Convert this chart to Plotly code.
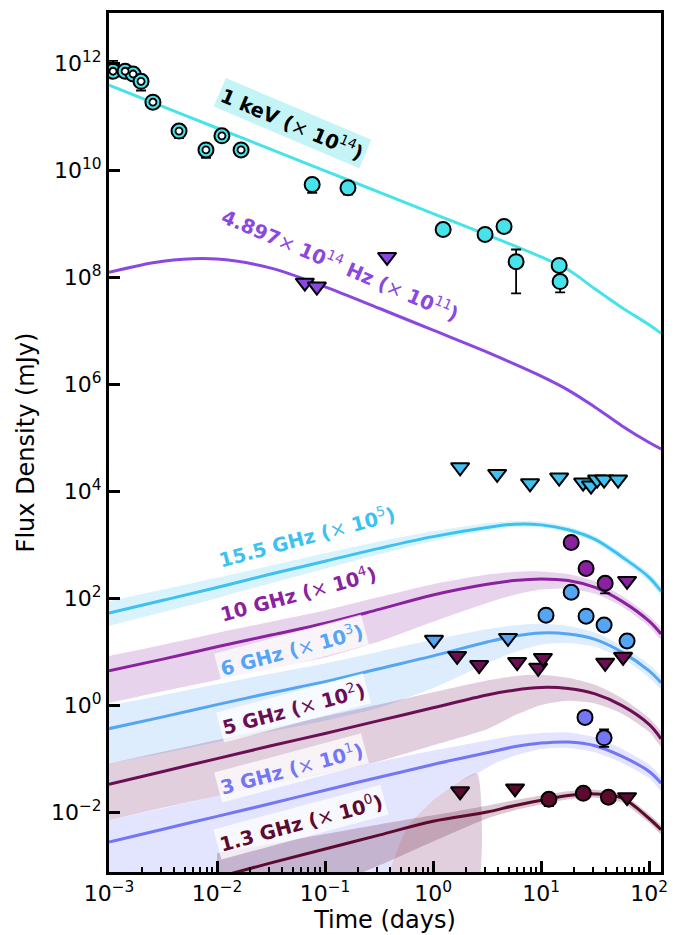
import numpy as np
import plotly.graph_objects as go

# ---------------- model curves (time in days, log10 flux density in mJy) ----------------
t_grid = [0.001, 0.00316, 0.01, 0.0316, 0.1, 0.316, 1.0, 3.16, 5.62, 10.0, 17.8, 31.6, 56.2, 100.0, 129.0]

xray_log = [11.59, 11.19, 10.79, 10.39, 9.99, 9.59, 9.19, 8.79, 8.59, 8.38, 8.14, 7.78, 7.43, 7.11, 6.95]
opt_log = [8.09, 8.30, 8.34, 8.17, 7.82, 7.42, 7.01, 6.60, 6.38, 6.15, 5.89, 5.57, 5.22, 4.91, 4.79]

r155_log = [1.72, 1.96, 2.20, 2.45, 2.69, 2.93, 3.15, 3.32, 3.38, 3.37, 3.28, 3.10, 2.77, 2.39, 2.13]
r155_up = [1.94, 2.16, 2.38, 2.61, 2.84, 3.06, 3.25, 3.40, 3.44, 3.43, 3.34, 3.16, 2.84, 2.47, 2.21]
r155_lo = [1.48, 1.74, 2.00, 2.28, 2.55, 2.82, 3.07, 3.26, 3.33, 3.32, 3.23, 3.04, 2.70, 2.31, 2.05]

r10_log = [0.64, 0.86, 1.09, 1.31, 1.53, 1.79, 2.06, 2.26, 2.33, 2.36, 2.33, 2.20, 1.94, 1.57, 1.33]
r10_up = [0.92, 1.13, 1.35, 1.56, 1.77, 2.02, 2.26, 2.44, 2.49, 2.50, 2.45, 2.31, 2.04, 1.67, 1.43]
r10_lo = [0.04, 0.26, 0.47, 0.68, 0.89, 1.19, 1.56, 1.91, 2.06, 2.16, 2.18, 2.08, 1.84, 1.47, 1.23]

r6_log = [-0.44, -0.22, 0.01, 0.23, 0.44, 0.68, 0.92, 1.18, 1.29, 1.35, 1.33, 1.23, 0.99, 0.64, 0.42]
r6_up = [-0.01, 0.19, 0.39, 0.59, 0.78, 1.00, 1.22, 1.42, 1.49, 1.52, 1.48, 1.36, 1.11, 0.76, 0.54]
r6_lo = [-1.09, -0.90, -0.69, -0.49, -0.29, -0.05, 0.32, 0.78, 0.99, 1.13, 1.16, 1.09, 0.87, 0.52, 0.30]

r5_log = [-1.48, -1.24, -1.00, -0.76, -0.53, -0.29, -0.05, 0.19, 0.28, 0.33, 0.31, 0.21, -0.01, -0.36, -0.63]
r5_up = [-1.09, -0.87, -0.65, -0.43, -0.21, 0.01, 0.24, 0.46, 0.54, 0.57, 0.51, 0.38, 0.13, -0.24, -0.51]
r5_lo = [-2.15, -1.92, -1.70, -1.48, -1.28, -1.05, -0.75, -0.45, -0.20, 0.00, 0.08, 0.03, -0.16, -0.50, -0.77]

r3_log = [-2.56, -2.32, -2.08, -1.84, -1.59, -1.35, -1.11, -0.89, -0.78, -0.71, -0.69, -0.76, -0.96, -1.24, -1.46]
r3_up = [-2.15, -1.93, -1.70, -1.48, -1.26, -1.06, -0.85, -0.66, -0.57, -0.52, -0.51, -0.60, -0.82, -1.11, -1.34]
t3_lo = [0.001, 0.0316, 0.1, 0.38, 0.40, 0.50, 0.61, 0.79, 1.0, 1.67, 2.55, 3.98, 6.31, 10.0, 17.8, 31.6, 56.2, 100.0, 129.0]
r3_lo = [-3.5, -3.5, -3.5, -3.5, -3.08, -2.55, -2.21, -1.98, -1.78, -1.46, -1.28, -1.06, -0.92, -0.82, -0.80, -0.88, -1.08, -1.36, -1.60]

t13 = [0.01, 0.0316, 0.1, 0.316, 1.0, 3.16, 5.62, 10.0, 17.8, 31.6, 56.2, 100.0, 129.0]
r13_log = [-3.22, -2.95, -2.69, -2.43, -2.17, -2.00, -1.88, -1.78, -1.69, -1.66, -1.74, -2.12, -2.33]
r13_up = [-2.77, -2.59, -2.41, -2.23, -2.06, -1.88, -1.78, -1.69, -1.61, -1.58, -1.66, -2.04, -2.25]
r13_lo = [-4.0, -3.7, -3.4, -3.0, -2.55, -2.12, -1.97, -1.86, -1.76, -1.73, -1.82, -2.20, -2.41]

t_wedge = [0.38, 0.40, 0.50, 0.61, 0.79, 1.0, 1.67, 2.55]
wedge_up = [-3.3, -3.08, -2.55, -2.21, -1.98, -1.78, -1.46, -1.28]
wedge_lo = [-3.5, -3.5, -3.5, -3.5, -3.5, -3.5, -3.5, -3.5]

# ---------------- observations (days, mJy) ----------------
xo_t = [1.09e-3, 1.41e-3, 1.67e-3, 1.98e-3, 2.55e-3, 4.45e-3, 7.9e-3, 1.11e-2, 1.67e-2]
xo_f = [7.1e11, 7.1e11, 6.3e11, 4.6e11, 1.87e11, 5.4e10, 2.4e10, 4.4e10, 2.4e10]
xo_ep = [4.0e11, 5e10, 5e10, 4e10, 1.5e10, 4e9, 2e9, 4e9, 2e9]
xo_em = [5e10, 5e10, 5e10, 1.5e11, 1.5e10, 1.4e10, 7e9, 4e9, 2e9]

xf_t = [0.076, 0.163, 1.24, 3.03, 4.54, 5.87, 14.7, 15.0]
xf_f = [5.4e9, 4.7e9, 7.8e8, 6.3e8, 8.9e8, 1.95e8, 1.66e8, 8.3e7]
xf_ep = [5e8, 5e8, 8e7, 6e7, 8e7, 1.35e8, 1.5e7, 1.0e7]
xf_em = [1.6e9, 1.2e9, 1.2e8, 6e7, 8e7, 1.45e8, 1.5e7, 3.1e7]

opt_ul_t = [0.065, 0.084, 0.375]
opt_ul_f = [7.9e7, 6.7e7, 2.4e8]

r155_ul_t = [1.78, 3.92, 7.9, 14.7, 24.5, 29.0, 33.0, 38.3, 51.6]
r155_ul_f = [2.8e4, 2.1e4, 1.4e4, 1.8e4, 1.45e4, 1.27e4, 1.65e4, 1.65e4, 1.65e4]

r10_t = [19.0, 26.1, 39.2]
r10_f = [1.1e3, 3.6e2, 1.9e2]
r10_em = [60, 25, 67]
r10_ul_t = [62.5]
r10_ul_f = [2.1e2]

r6_t = [11.1, 19.0, 26.1, 38.3, 62.5]
r6_f = [48, 129, 46, 31.5, 15.8]
r6_em = [3, 8, 3, 2, 3.5]
r6_ul_t = [1.02, 4.94]
r6_ul_f = [16.6, 18.0]

r5_ul_t = [1.67, 2.67, 6.0, 9.4, 10.4, 39.2, 57.4]
r5_ul_f = [8.3, 5.6, 6.4, 5.0, 7.6, 6.2, 8.0]

r3_t = [25.5, 38.3]
r3_f = [0.59, 0.245]
r3_ep = [0.03, 0.105]
r3_em = [0.03, 0.079]

r13_t = [11.8, 24.6, 42.0]
r13_f = [0.0174, 0.0224, 0.019]
r13_em = [0.0045, 0.002, 0.0042]
r13_ul_t = [1.78, 5.74, 62.5]
r13_ul_f = [0.0245, 0.0277, 0.019]

# ---------------- ticks ----------------
x_tickvals = [1e-3, 1e-2, 1e-1, 1, 10, 100]
x_ticktext = ["10<sup>−3</sup>", "10<sup>−2</sup>", "10<sup>−1</sup>", "10<sup>0</sup>", "10<sup>1</sup>", "10<sup>2</sup>"]
y_tickvals = [1e-2, 1, 1e2, 1e4, 1e6, 1e8, 1e10, 1e12]
y_ticktext = ["10<sup>−2</sup>", "10<sup>0</sup>", "10<sup>2</sup>", "10<sup>4</sup>", "10<sup>6</sup>",
              "10<sup>8</sup>", "10<sup>10</sup>", "10<sup>12</sup>"]

# ---------------- colours ----------------
C_X = "#46E3EA"
C_OPT = "#8A48E0"
C_155 = "#3DC1F0"
C_10 = "#8A22A0"
C_6 = "#55A5F5"
C_5 = "#6B0F55"
C_3 = "#7376F5"
C_13 = "#5C0A2E"


def rgba(hexcol, a):
    h = hexcol.lstrip("#")
    r, g, b = int(h[0:2], 16), int(h[2:4], 16), int(h[4:6], 16)
    return f"rgba({r},{g},{b},{a})"


def pw(lst):
    return list(10 ** np.array(lst, dtype=float))


fig = go.Figure()


def band(t_up, up, t_lo, lo, color, a=0.2):
    fig.add_trace(go.Scatter(
        x=list(t_up) + list(t_lo)[::-1],
        y=pw(up) + pw(lo)[::-1],
        fill="toself", fillcolor=rgba(color, a), mode="lines",
        line=dict(width=0, color="rgba(0,0,0,0)", shape="spline", smoothing=0.6),
        hoverinfo="skip", showlegend=False))


band(t_grid, r155_up, t_grid, r155_lo, C_155)
band(t_grid, r10_up, t_grid, r10_lo, C_10)
band(t_grid, r6_up, t_grid, r6_lo, C_6)
band(t_grid, r5_up, t_grid, r5_lo, C_5)
band(t_wedge, wedge_up, t_wedge, wedge_lo, C_5)
band(t_grid, r3_up, t3_lo, r3_lo, C_3)
band(t13, r13_up, t13, r13_lo, C_13, 0.22)


def model(t, lg, color):
    fig.add_trace(go.Scatter(x=t, y=pw(lg), mode="lines",
                             line=dict(color=color, width=3, shape="spline", smoothing=1.0),
                             hoverinfo="skip", showlegend=False))


model(t_grid, xray_log, C_X)
model(t_grid, opt_log, C_OPT)
model(t_grid, r155_log, C_155)
model(t_grid, r10_log, C_10)
model(t_grid, r6_log, C_6)
model(t_grid, r5_log, C_5)
model(t_grid, r3_log, C_3)
model(t13, r13_log, C_13)

ERR = dict(type="data", symmetric=False, color="black", thickness=1.8, width=5)


def pts(t, f, color, symbol="circle", size=15, ep=None, em=None):
    kw = {}
    if ep is not None or em is not None:
        e = dict(ERR)
        e["array"] = ep if ep is not None else [0] * len(t)
        e["arrayminus"] = em if em is not None else [0] * len(t)
        kw["error_y"] = e
    fig.add_trace(go.Scatter(x=t, y=f, mode="markers",
                             marker=dict(symbol=symbol, size=size, color=color,
                                         line=dict(color="black", width=2)),
                             showlegend=False, **kw))


# X-ray: early (ring style) and late
pts(xo_t, xo_f, C_X, size=15, ep=xo_ep, em=xo_em)
fig.add_trace(go.Scatter(x=xo_t, y=xo_f, mode="markers",
                         marker=dict(symbol="circle", size=7, color="white",
                                     line=dict(color="black", width=1.8)),
                         showlegend=False))
pts(xf_t, xf_f, C_X, size=15, ep=xf_ep, em=xf_em)

TRI = 16
pts(opt_ul_t, opt_ul_f, C_OPT, "triangle-down", TRI)
pts(r155_ul_t, r155_ul_f, C_155, "triangle-down", TRI)
pts(r10_t, r10_f, C_10, em=r10_em)
pts(r10_ul_t, r10_ul_f, C_10, "triangle-down", TRI)
pts(r6_t, r6_f, C_6, em=r6_em)
pts(r6_ul_t, r6_ul_f, C_6, "triangle-down", TRI)
pts(r5_ul_t, r5_ul_f, C_5, "triangle-down", TRI)
pts(r3_t, r3_f, C_3, ep=r3_ep, em=r3_em)
pts(r13_t, r13_f, C_13, em=r13_em)
pts(r13_ul_t, r13_ul_f, C_13, "triangle-down", TRI)

# ---------------- labels ----------------
FONT = "DejaVu Sans"


def label(text, lx, ly, color, angle, bg="rgba(255,255,255,0)", size=19.5):
    fig.add_annotation(x=lx, y=ly, xref="x", yref="y", text=text, showarrow=False,
                       textangle=angle, font=dict(family=FONT, size=size, color=color),
                       bgcolor=bg, borderpad=2)


label("<b>1 keV (</b>× <b>10</b><sup>14</sup><b>)</b>", -1.305, 10.88, "black", 23, bg="#c4f4f6")
label("<b>4.897</b>× <b>10</b><sup>14</sup><b> Hz (</b>× <b>10</b><sup>11</sup><b>)</b>", -0.861, 8.24, C_OPT, 23)
WB = "rgba(255,255,255,0.75)"
label("<b>15.5 GHz (</b>× <b>10</b><sup>5</sup><b>)</b>", -1.167, 3.17, C_155, -15)
label("<b>10 GHz (</b>× <b>10</b><sup>4</sup><b>)</b>", -1.25, 2.09, C_10, -15)
label("<b>6 GHz (</b>× <b>10</b><sup>3</sup><b>)</b>", -1.306, 1.05, C_6, -15, bg=WB)
label("<b>5 GHz (</b>× <b>10</b><sup>2</sup><b>)</b>", -1.296, -0.05, C_5, -15, bg=WB)
label("<b>3 GHz (</b>× <b>10</b><sup>1</sup><b>)</b>", -1.315, -1.17, C_3, -15, bg=WB)
label("<b>1.3 GHz (</b>× <b>10</b><sup>0</sup><b>)</b>", -1.222, -2.19, C_13, -15, bg=WB)

axis_common = dict(type="log", showline=True, linecolor="black", linewidth=3, mirror=True,
                   ticks="inside", ticklen=11, tickwidth=2.5, tickcolor="black",
                   showgrid=False, zeroline=False, tickmode="array",
                   tickfont=dict(family=FONT, size=22, color="black"))

minor_x = [m * 10.0 ** e for e in range(-3, 3) for m in range(2, 10)]

fig.update_xaxes(**axis_common, range=[-3, 2.11], tickvals=x_tickvals, ticktext=x_ticktext,
                 minor=dict(tickmode="array", tickvals=minor_x, ticks="inside", ticklen=5,
                            tickwidth=1.5, tickcolor="black", showgrid=False),
                 title=dict(text="Time (days)", font=dict(family=FONT, size=24, color="black"), standoff=6))
fig.update_yaxes(**axis_common, range=[-3.12, 12.94], tickvals=y_tickvals, ticktext=y_ticktext,
                 title=dict(text="Flux Density (mJy)", font=dict(family=FONT, size=24, color="black"), standoff=10))

# page body has an 8px margin: shift the figure so the axes land where the reference has them
fig.update_layout(width=686, height=927, margin=dict(l=101, r=33, t=2, b=63),
                  paper_bgcolor="white", plot_bgcolor="white", showlegend=False,
                  font=dict(family=FONT))

fig.write_html("out.html")
